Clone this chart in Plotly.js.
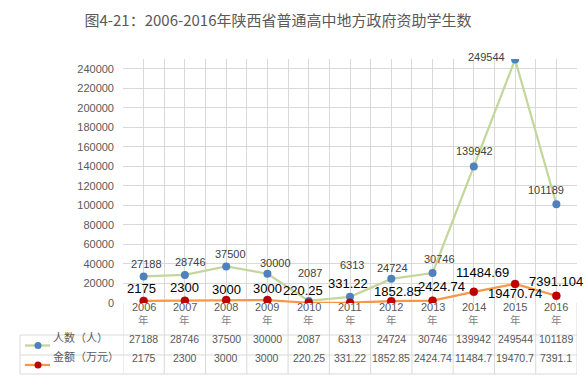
<!DOCTYPE html>
<html><head><meta charset="utf-8">
<script src="https://cdn.plot.ly/plotly-3.0.1.min.js"></script>
<style>html,body{margin:0;padding:0;background:#fff}#c{width:588px;height:376px}</style>
</head><body><div id="c"></div>
<script>
var years = ['2006','2007','2008','2009','2010','2011','2012','2013','2014','2015','2016'];
var yearSuffix = '年';
var seriesNames = ['人数（人）','金额（万元）'];
var people = [27188, 28746, 37500, 30000, 2087, 6313, 24724, 30746, 139942, 249544, 101189];
var amount = [2175, 2300, 3000, 3000, 220.25, 331.22, 1852.85, 2424.74, 11484.69, 19470.74, 7391.104];
var amountLabels = ['2175','2300','3000','3000','220.25','331.22','1852.85','2424.74','11484.69','19470.74','7391.104'];
var amountTable = ['2175','2300','3000','3000','220.25','331.22','1852.85','2424.74','11484.7','19470.7','7391.1'];
var titleText = '图4-21：2006-2016年陕西省普通高中地方政府资助学生数';
var yTicks = [0,20000,40000,60000,80000,100000,120000,140000,160000,180000,200000,220000,240000];

var pShift = [[3,12],[6,13],[4,12],[8,11],[1,28],[2,32],[1,11],[7,14],[1,15],[-29,2],[-10,14]];
var aShift = [[-2,12],[0,13],[0,11],[0,12],[-6,12],[-2,19],[6,10],[9,14],[9,19],[0,-9],[0,14]];

var M = {l:123, r:11, t:59, b:73, pad:0, autoexpand:false};
var W = 588, H = 376;
var plotH = H - M.t - M.b, plotW = W - M.l - M.r;
function py(p){ return (H - M.b - p) / plotH; }
function px(p){ return (p - M.l) / plotW; }

var xs = years.map(function(_, i){ return i; });
var grid = '#d9d9d9';
var numFont = 'Liberation Sans, Arial, sans-serif';
var cjkFont = 'Noto Sans CJK SC, sans-serif';

var traces = [
  {x: xs, y: people, type:'scatter', mode:'lines+markers', name: seriesNames[0],
   line:{color:'#c3d69b', width:2.25}, marker:{color:'#4f81bd', size:8}, hoverinfo:'skip'},
  {x: xs, y: amount, type:'scatter', mode:'lines+markers', name: seriesNames[1],
   line:{color:'#f79646', width:2.25}, marker:{color:'#c00000', size:8, line:{color:'#a00000', width:0.5}}, hoverinfo:'skip'}
];

var ann = [];
xs.forEach(function(i){
  ann.push({x:i, y:people[i], xref:'x', yref:'y', text:String(people[i]), showarrow:false, borderpad:0,
    xshift:pShift[i][0], yshift:pShift[i][1], font:{family:numFont, size:11, color:'#404040'}});
  ann.push({x:i, y:amount[i], xref:'x', yref:'y', text:amountLabels[i], showarrow:false, borderpad:0,
    xshift:aShift[i][0], yshift:aShift[i][1], font:{family:numFont, size:13, color:'#000000'}});
  ann.push({x:i, y:py(314), xref:'x', yref:'paper', text:years[i], showarrow:false, borderpad:0,
    font:{family:numFont, size:11, color:'#595959'}});
  ann.push({x:i, y:py(327.5), xref:'x', yref:'paper', text:yearSuffix, showarrow:false, borderpad:0,
    font:{family:cjkFont, size:10.5, color:'#7f7f7f'}});
  ann.push({x:i, y:py(345.5), xref:'x', yref:'paper', text:String(people[i]), showarrow:false, borderpad:0,
    font:{family:numFont, size:10.5, color:'#595959'}});
  ann.push({x:i, y:py(365), xref:'x', yref:'paper', text:amountTable[i], showarrow:false, borderpad:0,
    font:{family:numFont, size:10.5, color:'#595959'}});
});
ann.push({x:px(52), y:py(345.5), xref:'paper', yref:'paper', xanchor:'left', text:seriesNames[0], showarrow:false, borderpad:0,
  font:{family:cjkFont, size:11, color:'#595959'}});
ann.push({x:px(52), y:py(365), xref:'paper', yref:'paper', xanchor:'left', text:seriesNames[1], showarrow:false, borderpad:0,
  font:{family:cjkFont, size:11, color:'#595959'}});

var shapes = [];
function hline(p, x0, x1){ shapes.push({type:'line', xref:'paper', yref:'paper', x0:px(x0), x1:px(x1), y0:py(p), y1:py(p), line:{color:grid, width:1}}); }
hline(335, 20, W - M.r); hline(355, 20, W - M.r); hline(374, 20, W - M.r);
shapes.push({type:'line', xref:'paper', yref:'paper', x0:px(20), x1:px(20), y0:py(335), y1:py(374), line:{color:grid, width:1}});
for (var k = 0; k <= years.length; k++) {
  shapes.push({type:'line', xref:'x', yref:'paper', x0:k-0.5, x1:k-0.5, y0:0, y1:py(374), line:{color:grid, width:1}});
}
[[345.5,'#c3d69b','#4f81bd'],[365,'#f79646','#c00000']].forEach(function(s){
  shapes.push({type:'line', xref:'paper', yref:'paper', x0:px(25), x1:px(50), y0:py(s[0]), y1:py(s[0]), line:{color:s[1], width:2.25}});
  shapes.push({type:'circle', xref:'paper', yref:'paper', x0:px(34.5), x1:px(41.5), y0:py(s[0]+3.5), y1:py(s[0]-3.5), fillcolor:s[2], line:{color:s[2], width:0}});
});

var gv = [];
for (var g = -0.5; g <= 10.5; g += 0.5) gv.push(g);

var layout = {
  width: W, height: H, margin: M, showlegend:false,
  paper_bgcolor:'#ffffff', plot_bgcolor:'#ffffff',
  title:{text:titleText, x:278/W, xanchor:'center', xref:'container', y:1-21/H, yanchor:'middle', yref:'container',
    automargin:false, font:{family:cjkFont, size:15, color:'#595959'}},
  xaxis:{range:[-0.5,10.5], tickvals:gv, showticklabels:false, showgrid:true, gridcolor:grid, gridwidth:1,
    zeroline:false, showline:false, ticks:'', automargin:false, fixedrange:true},
  yaxis:{range:[0,250000], tickvals:yTicks, ticktext:yTicks.map(String), showgrid:true, gridcolor:grid, gridwidth:1,
    zeroline:false, showline:false, ticks:'', ticklabelstandoff:8, automargin:false,
    tickfont:{family:numFont, size:11, color:'#595959'}, fixedrange:true},
  annotations: ann, shapes: shapes
};
Plotly.newPlot('c', traces, layout, {displayModeBar:false, staticPlot:true});
</script></body></html>
